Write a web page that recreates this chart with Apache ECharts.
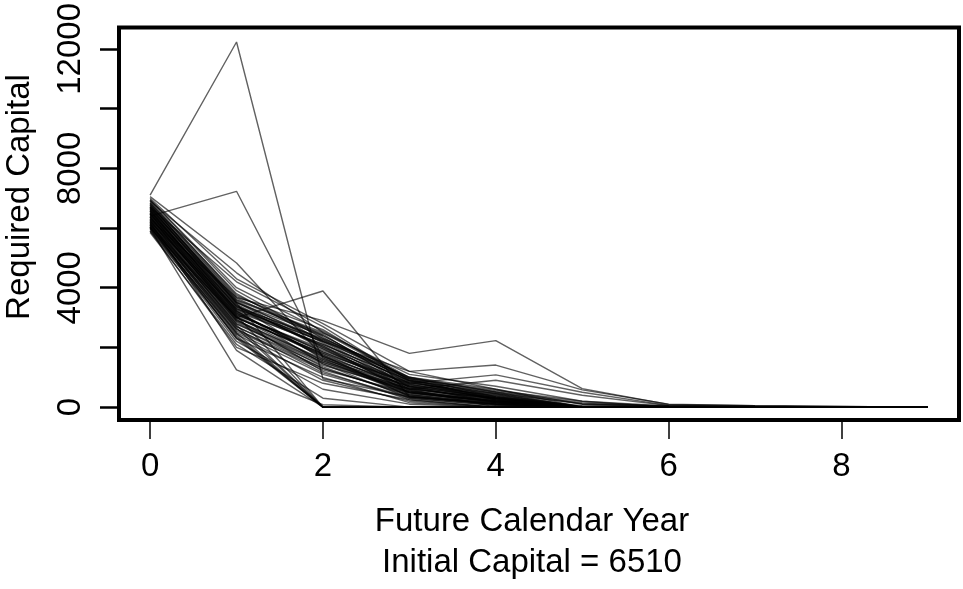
<!DOCTYPE html>
<html>
<head>
<meta charset="utf-8">
<script src="https://cdn.jsdelivr.net/npm/echarts@6/dist/echarts.min.js"></script>
<style>
  html, body { margin: 0; padding: 0; background: #fff; }
  #chart { width: 963px; height: 589px; }
</style>
</head>
<body>
<div id="chart"></div>
<script>
// future calendar years on the x axis
const years = [0, 1, 2, 3, 4, 5, 6, 7, 8, 9];

// a few simulated paths that stand out from the bundle
const outlierPaths = [
  [7100, 12230, 950, 350, 120, 0, 0, 0, 0, 0],
  [6400, 7230, 1650, 500, 200, 30, 0, 0, 0, 0],
  [7050, 4830, 1700, 700, 300, 0, 0, 0, 0, 0],
  [6000, 3000, 3890, 350, 150, 0, 0, 0, 0, 0],
  [6300, 3670, 2900, 1800, 2230, 620, 90, 50, 20, 0],
  [6200, 3300, 2200, 1200, 1410, 580, 100, 50, 20, 0],
  [6100, 3000, 1800, 800, 1080, 500, 60, 30, 10, 0],
  [6500, 3400, 2000, 600, 900, 400, 50, 20, 0, 0],
  [6000, 1250, 80, 0, 0, 0, 0, 0, 0, 0],
  [6200, 1900, 0, 0, 0, 0, 0, 0, 0, 0],
  [6700, 4200, 2700, 900, 300, 0, 0, 0, 0, 0],
  [6900, 4500, 2500, 1100, 700, 200, 0, 0, 0, 0]
];

// the dense bundle of paths
const bundlePaths = [
  [5900, 2350, 0, 0, 0, 0, 0, 0, 0, 0],
  [6050, 2600, 1300, 400, 100, 0, 0, 0, 0, 0],
  [6150, 2800, 1500, 500, 200, 0, 0, 0, 0, 0],
  [6250, 2900, 1600, 700, 300, 0, 0, 0, 0, 0],
  [6350, 3100, 1900, 800, 450, 0, 0, 0, 0, 0],
  [6450, 3200, 2100, 900, 500, 100, 20, 0, 0, 0],
  [6550, 3350, 2300, 1000, 600, 0, 0, 0, 0, 0],
  [6650, 3500, 2400, 850, 350, 0, 0, 0, 0, 0],
  [6750, 3600, 2500, 950, 250, 0, 0, 0, 0, 0],
  [6850, 3800, 2200, 700, 150, 0, 0, 0, 0, 0],
  [5950, 2500, 1100, 300, 50, 0, 0, 0, 0, 0],
  [6080, 2700, 1400, 600, 0, 0, 0, 0, 0, 0],
  [6180, 2750, 0, 0, 0, 0, 0, 0, 0, 0],
  [6280, 3050, 1700, 450, 200, 0, 0, 0, 0, 0],
  [6380, 2950, 1200, 250, 0, 0, 0, 0, 0, 0],
  [6480, 3150, 1750, 650, 250, 0, 0, 0, 0, 0],
  [6580, 3250, 2050, 750, 400, 0, 0, 0, 0, 0],
  [6680, 3450, 1950, 550, 180, 0, 0, 0, 0, 0],
  [6780, 3550, 2150, 600, 300, 0, 0, 0, 0, 0],
  [6020, 2450, 900, 200, 0, 0, 0, 0, 0, 0],
  [6120, 2650, 0, 0, 0, 0, 0, 0, 0, 0],
  [6220, 2850, 1350, 350, 100, 0, 0, 0, 0, 0],
  [6320, 3020, 1550, 520, 220, 0, 0, 0, 0, 0],
  [6420, 3120, 1850, 680, 330, 50, 0, 0, 0, 0],
  [6520, 3220, 1650, 420, 120, 0, 0, 0, 0, 0],
  [6620, 3380, 2250, 820, 420, 0, 0, 0, 0, 0],
  [6720, 3480, 0, 0, 0, 0, 0, 0, 0, 0],
  [6820, 3650, 2350, 780, 260, 0, 0, 0, 0, 0],
  [5980, 2200, 600, 100, 0, 0, 0, 0, 0, 0],
  [6100, 2550, 1250, 480, 160, 0, 0, 0, 0, 0],
  [6240, 2780, 1450, 300, 60, 0, 0, 0, 0, 0],
  [6360, 2980, 1800, 560, 240, 0, 0, 0, 0, 0],
  [6460, 3080, 1950, 720, 380, 0, 0, 0, 0, 0],
  [6560, 3280, 2100, 880, 460, 120, 30, 10, 0, 0],
  [6660, 3420, 1600, 380, 80, 0, 0, 0, 0, 0],
  [6760, 3580, 2450, 650, 200, 0, 0, 0, 0, 0],
  [6040, 2400, 0, 0, 0, 0, 0, 0, 0, 0],
  [6160, 2620, 1150, 330, 90, 0, 0, 0, 0, 0],
  [6300, 2880, 1500, 610, 280, 0, 0, 0, 0, 0],
  [6400, 3060, 0, 0, 0, 0, 0, 0, 0, 0],
  [6500, 3180, 1700, 540, 170, 0, 0, 0, 0, 0],
  [6600, 3300, 2200, 960, 520, 150, 30, 10, 0, 0],
  [6700, 3520, 2000, 820, 340, 0, 0, 0, 0, 0],
  [6850, 3700, 2600, 900, 450, 0, 0, 0, 0, 0],
  [6950, 3900, 2300, 1000, 350, 0, 0, 0, 0, 0],
  [7000, 4300, 2800, 1200, 600, 100, 0, 0, 0, 0],
  [5850, 2100, 300, 0, 0, 0, 0, 0, 0, 0],
  [6020, 2300, 1000, 150, 0, 0, 0, 0, 0, 0],
  [6140, 2480, 0, 0, 0, 0, 0, 0, 0, 0],
  [6260, 2700, 1300, 420, 140, 0, 0, 0, 0, 0],
  [6380, 2920, 1550, 620, 290, 0, 0, 0, 0, 0],
  [6480, 3000, 1750, 350, 100, 0, 0, 0, 0, 0],
  [6580, 3150, 1850, 760, 310, 0, 0, 0, 0, 0],
  [6700, 3350, 2050, 480, 200, 0, 0, 0, 0, 0],
  [6800, 3500, 2250, 950, 560, 200, 40, 20, 10, 0],
  [6900, 3750, 2400, 870, 230, 0, 0, 0, 0, 0],
  [6050, 2300, 0, 0, 0, 0, 0, 0, 0, 0],
  [6950, 4000, 2550, 1000, 500, 0, 0, 0, 0, 0],
  [5900, 2000, 800, 250, 0, 0, 0, 0, 0, 0],
  [6630, 3230, 1450, 500, 150, 0, 0, 0, 0, 0]
];

// axis ticks
const xTickValues = [0, 2, 4, 6, 8];
const yTickValues = [0, 2000, 4000, 6000, 8000, 10000, 12000];
const yLabelValues = [0, 4000, 8000, 12000];

const FONT = 'Liberation Sans, Arial, Helvetica, sans-serif';

let myChart = echarts.init(document.getElementById('chart'));

const allPaths = outlierPaths.concat(bundlePaths);
const series = allPaths.map(function (p) {
  return {
    type: 'line',
    data: p.map(function (v, i) { return [years[i], v]; }),
    symbol: 'none',
    silent: true,
    lineStyle: { color: 'rgba(0,0,0,0.62)', width: 1.4 }
  };
});

myChart.setOption({
  animation: false,
  grid: {
    left: 119, right: 4, top: 23, bottom: 169,
    show: true,
    borderColor: '#000',
    borderWidth: 4,
    backgroundColor: 'transparent'
  },
  xAxis: {
    type: 'value',
    min: -0.36,
    max: 9.36,
    axisLine: { show: false, onZero: false },
    splitLine: { show: false },
    axisTick: {
      show: true,
      customValues: xTickValues,
      length: 19,
      lineStyle: { color: '#000', width: 1.5 }
    },
    axisLabel: {
      customValues: xTickValues,
      margin: 30,
      color: '#000',
      fontSize: 33,
      fontFamily: FONT
    }
  },
  yAxis: {
    type: 'value',
    min: -430,
    max: 12720,
    axisLine: { show: false, onZero: false },
    splitLine: { show: false },
    axisTick: {
      show: true,
      customValues: yTickValues,
      length: 19,
      lineStyle: { color: '#000', width: 2.5 }
    },
    axisLabel: {
      customValues: yLabelValues,
      formatter: function (v) { return String(v); },
      rotate: 90,
      margin: 32,
      color: '#000',
      fontSize: 33,
      fontFamily: FONT
    }
  },
  graphic: [
    {
      type: 'text', x: 532, y: 522,
      style: { text: 'Future Calendar Year', fill: '#000', font: '33px ' + FONT, textAlign: 'center', textVerticalAlign: 'middle' }
    },
    {
      type: 'text', x: 532, y: 563,
      style: { text: 'Initial Capital = 6510', fill: '#000', font: '33px ' + FONT, textAlign: 'center', textVerticalAlign: 'middle' }
    },
    {
      type: 'text', x: 20, y: 197, rotation: Math.PI / 2,
      style: { text: 'Required Capital', fill: '#000', font: '33px ' + FONT, textAlign: 'center', textVerticalAlign: 'middle' }
    }
  ],
  series: series
});
</script>
</body>
</html>
